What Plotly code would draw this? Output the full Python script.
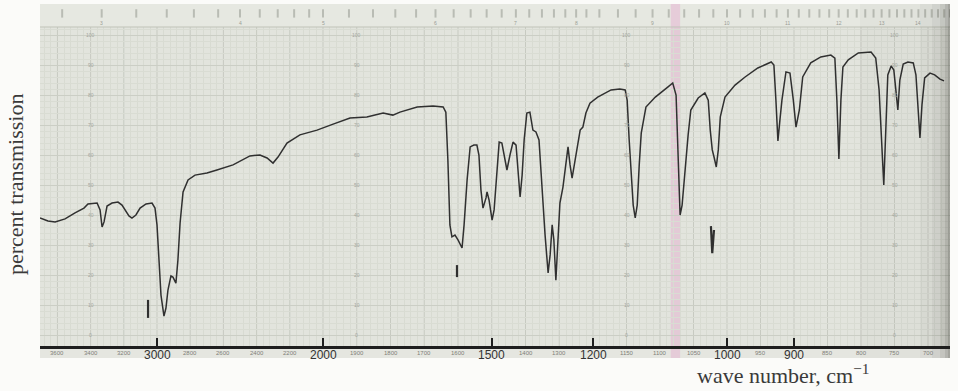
import numpy as np
import plotly.graph_objects as go

# ---------------- data ----------------
WAVENUMBER = [3705, 3657, 3614, 3554, 3494, 3440, 3416, 3361, 3343, 3331,
              3319, 3301, 3271, 3235, 3211, 3193, 3169, 3151, 3127, 3102,
              3066, 3030, 3012, 3000, 2988, 2976, 2958, 2946, 2934, 2916,
              2904, 2886, 2874, 2861, 2843, 2813, 2771, 2699, 2639, 2542,
              2440, 2380, 2337, 2301, 2271, 2217, 2139, 2036, 1970, 1920,
              1870, 1822, 1793, 1772, 1721, 1674, 1644, 1636, 1630, 1624,
              1618, 1609, 1600, 1591, 1588, 1582, 1573, 1564, 1553, 1544,
              1538, 1532, 1526, 1517, 1514, 1508, 1499, 1493, 1487, 1478,
              1470, 1461, 1455, 1446, 1437, 1428, 1422, 1416, 1410, 1404,
              1396, 1387, 1378, 1369, 1360, 1354, 1348, 1342, 1333, 1327,
              1321, 1316, 1310, 1304, 1298, 1289, 1280, 1274, 1268, 1262,
              1253, 1247, 1238, 1230, 1221, 1209, 1193, 1173, 1160, 1152,
              1149, 1146, 1143, 1140, 1137, 1134, 1131, 1128, 1121, 1107,
              1088, 1081, 1076, 1073, 1070, 1067, 1063, 1058, 1054, 1043,
              1033, 1028, 1025, 1022, 1019, 1016, 1013, 1010, 1003, 988,
              973, 954, 934, 930, 927, 924, 921, 918, 912, 906,
              901, 897, 892, 887, 875, 860, 845, 839, 836, 833,
              830, 827, 819, 804, 785, 778, 773, 769, 766, 763,
              760, 755, 751, 748, 745, 742, 737, 730, 722, 718,
              715, 712, 709, 705, 697, 690, 682, 676]

TRANSMISSION = [39.0, 38.0, 37.7, 38.7, 40.7, 42.3, 43.7, 44.0, 41.7, 36.0,
                37.7, 43.0, 44.0, 44.3, 43.3, 41.7, 39.7, 39.0, 40.0, 42.3,
                43.7, 44.0, 42.3, 36.7, 25.0, 13.3, 6.3, 9.0, 15.0, 19.7,
                19.3, 17.3, 25.0, 37.3, 47.7, 51.7, 53.3, 54.0, 55.0, 56.7,
                59.7, 60.0, 59.0, 57.3, 59.3, 64.0, 66.7, 68.3, 70.3, 72.3,
                72.7, 74.0, 73.3, 74.3, 76.0, 76.3, 76.0, 74.3, 58.3, 36.7,
                32.7, 33.3, 31.7, 30.0, 29.0, 36.7, 51.7, 62.7, 63.3, 63.3,
                60.0, 48.3, 42.3, 45.7, 47.7, 45.0, 38.3, 41.7, 51.7, 64.3,
                64.0, 58.3, 55.0, 60.0, 64.3, 63.3, 55.0, 46.0, 53.3, 65.0,
                74.0, 74.3, 68.3, 67.7, 65.0, 53.3, 41.7, 33.3, 20.7, 26.7,
                36.7, 31.7, 18.3, 31.7, 44.0, 49.3, 58.3, 62.7, 56.7, 52.3,
                58.3, 62.7, 68.3, 69.3, 74.0, 77.3, 79.3, 81.7, 82.0, 81.7,
                78.3, 65.0, 53.3, 43.3, 39.0, 43.3, 56.7, 67.3, 76.0, 79.3,
                82.7, 84.0, 80.0, 58.3, 40.0, 43.3, 55.0, 66.7, 75.0, 79.0,
                80.7, 78.3, 68.3, 61.7, 59.0, 56.0, 61.7, 72.7, 79.3, 83.3,
                86.0, 89.0, 91.0, 90.0, 78.3, 64.7, 71.7, 78.3, 87.7, 87.3,
                78.3, 69.3, 75.0, 86.0, 90.7, 92.7, 93.3, 92.3, 78.3, 58.7,
                78.3, 89.3, 91.7, 94.0, 94.3, 92.3, 81.7, 61.7, 50.0, 68.3,
                86.7, 89.7, 88.3, 81.7, 75.0, 85.0, 90.3, 91.0, 90.7, 86.7,
                75.0, 65.7, 76.7, 85.7, 87.3, 86.7, 85.3, 84.7]

# calibration (polystyrene) marks pencilled on the chart
CAL1_WN = [3054, 3054]
CAL1_T = [11.7, 5.7]
CAL2_WN = [1603, 1603]
CAL2_T = [23.3, 19.3]
CAL3_WN = [1024, 1022, 1019.4]
CAL3_T = [36.3, 27.3, 35.0]

# axis labelling
TICK_WN = [3000, 2000, 1500, 1200, 1000, 900]
TICK_TEXT = ["3000", "2000", "1500", "1200", "1000", "900"]
SMALL_TICK_WN = [3600, 3400, 3200, 2800, 2600, 2400, 2200, 1900, 1800, 1700,
                 1600, 1400, 1300, 1150, 1100, 1050, 950, 850, 800, 750, 700]
GRID_LABEL_WN = [3400, 1900, 1150, 750]
GRID_LABEL_T = [0, 10, 20, 30, 40, 50, 60, 70, 80, 90, 100]
MICRON_LABELS = [3, 4, 5, 6, 7, 8, 9, 10, 11, 12, 13, 14]

# chart-paper scale: wavenumber -> position along the chart (scale changes at 2000 and 1200)
SCALE_WN = [667, 700, 1200, 2000, 3000, 3705]
SCALE_POS = [950, 928, 593, 323, 157, 40]


def chart_x(wn):
    return np.interp(np.asarray(wn, dtype=float), SCALE_WN, SCALE_POS)


X_MIN, X_MAX = 40, 950
Y_MIN, Y_MAX = -11 / 3, 110 + 1 / 3
STRIP_T = 102.67
PLOT_H = 342

PAPER = "#e2e4dd"
INK = "#303030"

fig = go.Figure()
fig.add_trace(go.Scatter(x=chart_x(WAVENUMBER), y=TRANSMISSION, mode="lines",
                         line=dict(color=INK, width=1.5), hoverinfo="skip"))
for wn, t in [(CAL1_WN, CAL1_T), (CAL2_WN, CAL2_T), (CAL3_WN, CAL3_T)]:
    fig.add_trace(go.Scatter(x=chart_x(wn), y=t, mode="lines",
                             line=dict(color=INK, width=2.2), hoverinfo="skip"))

major_grid = (list(range(3600, 1999, -200)) + list(range(1900, 1199, -100))
              + list(range(1150, 699, -50)))
minor_grid = (list(range(3680, 2000, -40)) + list(range(1980, 1200, -20))
              + list(range(1190, 669, -10)))
minor_grid = [w for w in minor_grid if w not in major_grid]

shapes = []
# lighter strip below the axis line
shapes.append(dict(type="rect", xref="paper", yref="paper", x0=0, x1=1,
                   y0=-12 / PLOT_H, y1=0, fillcolor="#e5e6e0", line=dict(width=0), layer="below"))
# pink stripe on the paper
pink = "rgba(230,150,200,0.33)"
shapes.append(dict(type="rect", xref="x", yref="paper", x0=float(chart_x(1084)), x1=float(chart_x(1070)),
                   y0=-12 / PLOT_H, y1=1, fillcolor=pink, line=dict(width=0), layer="below"))
# major vertical grid
for w in major_grid:
    xv = float(chart_x(w))
    shapes.append(dict(type="line", xref="x", yref="y", x0=xv, x1=xv, y0=Y_MIN, y1=STRIP_T,
                       line=dict(color="#c7cac1", width=1), layer="below"))
# top strip with wavelength scale
shapes.append(dict(type="rect", xref="paper", yref="y", x0=0, x1=1, y0=STRIP_T, y1=Y_MAX,
                   fillcolor="#e6e8e1", line=dict(width=0), layer="above"))
shapes.append(dict(type="rect", xref="x", yref="y", x0=float(chart_x(1084)), x1=float(chart_x(1070)),
                   y0=STRIP_T, y1=Y_MAX, fillcolor=pink, line=dict(width=0), layer="above"))
shapes.append(dict(type="line", xref="paper", yref="y", x0=0, x1=1, y0=STRIP_T, y1=STRIP_T,
                   line=dict(color="#c0c3ba", width=1), layer="above"))
for um in np.arange(2.8, 15.01, 0.2):
    xv = float(chart_x(10000 / um))
    shapes.append(dict(type="line", xref="x", yref="y", x0=xv, x1=xv, y0=105.8, y1=108.6,
                       line=dict(color="#b9bcb4", width=2), layer="above"))
# darker scanned right edge
for x0, a in [(860, 0.025), (920, 0.03), (932, 0.05), (940, 0.07), (945, 0.1), (948, 0.12)]:
    shapes.append(dict(type="rect", xref="paper", yref="paper", x0=(x0 - 40) / 910, x1=1,
                       y0=-12 / PLOT_H, y1=1, fillcolor=f"rgba(40,40,35,{a})", line=dict(width=0),
                       layer="above"))

annotations = []
for w, txt in zip(TICK_WN, TICK_TEXT):
    annotations.append(dict(x=float(chart_x(w)), xref="x", y=-8.5 / PLOT_H, yref="paper",
                            text=txt, showarrow=False, xanchor="center", yanchor="middle",
                            font=dict(family="Liberation Sans", size=12, color="#333333")))
for w in SMALL_TICK_WN:
    annotations.append(dict(x=float(chart_x(w)), xref="x", y=-6.5 / PLOT_H, yref="paper",
                            text=str(w), showarrow=False, xanchor="center", yanchor="middle",
                            font=dict(family="Liberation Sans", size=6, color="#7e7e79")))
for w in GRID_LABEL_WN:
    for t in GRID_LABEL_T:
        annotations.append(dict(x=float(chart_x(w)), xref="x", y=t, yref="y", text=str(t),
                                showarrow=False, xanchor="center", yanchor="middle",
                                font=dict(family="Liberation Sans", size=5, color="#a4a79f")))
for um in MICRON_LABELS:
    annotations.append(dict(x=float(chart_x(10000 / um)), xref="x", y=104.0, yref="y", text=str(um),
                            showarrow=False, xanchor="center", yanchor="middle",
                            font=dict(family="Liberation Sans", size=5, color="#9a9d95")))
annotations.append(dict(text="percent transmission", textangle=-90, showarrow=False,
                        xref="paper", x=(16 - 40) / 910, xanchor="center",
                        yref="paper", y=(346 - 185) / PLOT_H, yanchor="middle",
                        font=dict(family="Liberation Serif", size=22, color="#3a3a3a")))
annotations.append(dict(text="wave number, cm<sup>\u22121</sup>", showarrow=False,
                        xref="paper", x=(695 - 40) / 910, xanchor="left",
                        yref="paper", y=(346 - 374) / PLOT_H, yanchor="middle",
                        font=dict(family="Liberation Serif", size=22, color="#3a3a3a")))

fig.update_layout(
    width=958, height=391,
    margin=dict(l=40, r=8, t=4, b=45),
    paper_bgcolor="#fbfbf9", plot_bgcolor=PAPER,
    showlegend=False,
    shapes=shapes, annotations=annotations,
    xaxis=dict(range=[X_MIN, X_MAX], fixedrange=True,
               tickmode="array", tickvals=[float(v) for v in chart_x(TICK_WN)],
               showticklabels=False,
               ticks="inside", ticklen=8, tickwidth=2, tickcolor="#1e1e1e",
               showline=True, linecolor="#1e1e1e", linewidth=2.5,
               showgrid=False, zeroline=False,
               minor=dict(tickmode="array", tickvals=[float(v) for v in chart_x(minor_grid)],
                          showgrid=True, gridcolor="#d8dbd2", gridwidth=1, ticks="")),
    yaxis=dict(range=[Y_MIN, Y_MAX], fixedrange=True,
               tickmode="array", tickvals=list(range(0, 101, 10)),
               showticklabels=False, ticks="", showgrid=True, gridcolor="#cbcec5", gridwidth=1,
               zeroline=False, showline=False,
               minor=dict(tickmode="array", tickvals=list(range(0, 103, 2)),
                          showgrid=True, gridcolor="#d9dcd3", gridwidth=1, ticks="")),
)

fig.write_html("out.html")
